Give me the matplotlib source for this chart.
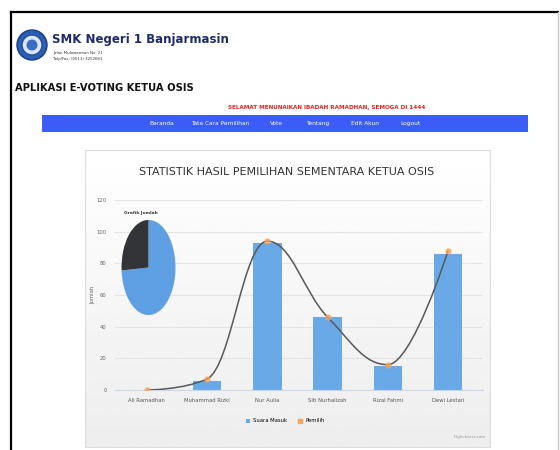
import matplotlib
matplotlib.use("Agg")
import matplotlib.pyplot as plt
import numpy as np
from matplotlib.path import Path
from matplotlib.patches import PathPatch, Rectangle, Circle

plt.rcParams["font.family"] = ["DejaVu Sans Condensed", "Liberation Sans Narrow", "DejaVu Sans"]

# data
candidates = ["Ali Ramadhan", "Muhammad Rizki", "Nur Aulia", "Siti Nurhalizah", "Rizal Fahmi", "Dewi Lestari"]
suara_masuk = [0, 6, 93, 46, 15, 86]
pemilih = [0, 7, 94, 46, 16, 88]
pie_labels = ["Sudah Memilih", "Belum Memilih"]
pie_values = [74, 26]
y_ticks = [0, 20, 40, 60, 80, 100, 120]
menu = ["Beranda", "Tata Cara Pemilihan", "Vote", "Tentang", "Edit Akun", "Logout"]
menu_x = [162, 220, 277, 318, 365, 410]

W, H = 560, 450
fig = plt.figure(figsize=(W / 100, H / 100), dpi=100)
fig.patch.set_facecolor("white")


def box(x0, y0, x1, y1):
    # pixel box (top-left origin) -> figure fraction
    return [x0 / W, 1 - y1 / H, (x1 - x0) / W, (y1 - y0) / H]


# page background / header
bg = fig.add_axes([0, 0, 1, 1])
bg.axis("off")
bg.plot([11, 558], [12, 12], color="black", lw=1.6)
bg.plot([11, 11], [12, 450], color="black", lw=1.6)
bg.plot([558, 558], [12, 450], color="#c8c8c8", lw=1)

# logo
bg.add_patch(Circle((32, 45), 15, facecolor="#2b5fb5", edgecolor="#1b3c86", lw=1))
bg.add_patch(Circle((32, 45), 10, facecolor="#dbe6f6", edgecolor="#274f9e", lw=1))
bg.add_patch(Circle((32, 45), 5.5, facecolor="#3a6cc0", edgecolor="none"))
bg.text(52, 39, "SMK Negeri 1 Banjarmasin", fontsize=8.5, fontweight="bold",
        color="#1e2a6e", ha="left", va="center")
bg.text(53, 53, "Jalan Mulawarman No. 21", fontsize=2.8, color="#333", va="center")
bg.text(53, 59, "Telp/Fax: (0511) 3252681", fontsize=2.8, color="#333", va="center")
bg.text(15, 88, "APLIKASI E-VOTING KETUA OSIS", fontsize=7.2, fontweight="bold",
        color="#111", ha="left", va="center")
bg.text(327, 108, "SELAMAT MENUNAIKAN IBADAH RAMADHAN, SEMOGA DI 1444", fontsize=4.1,
        fontweight="bold", color="#e8201c", ha="center", va="center")

# nav bar
bg.add_patch(Rectangle((42, 115), 486, 17, facecolor="#3b5cf6", edgecolor="none"))
for label, x in zip(menu, menu_x):
    bg.text(x, 123.5, label, fontsize=4.2, color="white", ha="center", va="center")

# chart panel with soft gradient
grad = np.linspace(1.0, 0.93, 100).reshape(-1, 1)
bg.imshow(grad, extent=(85, 490, 447, 150), cmap="gray", vmin=0, vmax=1,
          aspect="auto", zorder=0)
bg.add_patch(Rectangle((85, 150), 405, 297, facecolor="none", edgecolor="#dcdcdc", lw=0.8))
bg.text(287, 172, "STATISTIK HASIL PEMILIHAN SEMENTARA KETUA OSIS", fontsize=8,
        color="#333", ha="center", va="center")
bg.text(470, 437, "Highcharts.com", fontsize=3, color="#999", ha="center", va="center")
bg.set_xlim(0, W)
bg.set_ylim(H, 0)

# main chart
ax = fig.add_axes(box(115, 200, 483, 390))
ax.set_facecolor("none")
x = np.arange(len(candidates))
bars = ax.bar(x, suara_masuk, width=0.47, color="#6aa9e8", label="Suara Masuk", zorder=2)


def spline_path(xs, ys, smoothing=1.5):
    denom = smoothing + 1
    n = len(xs)
    lc = [(xs[i], ys[i]) for i in range(n)]
    rc = [(xs[i], ys[i]) for i in range(n)]
    for i in range(1, n - 1):
        px, py = xs[i], ys[i]
        lx = (smoothing * px + xs[i - 1]) / denom
        ly = (smoothing * py + ys[i - 1]) / denom
        rx = (smoothing * px + xs[i + 1]) / denom
        ry = (smoothing * py + ys[i + 1]) / denom
        corr = ((ry - ly) * (rx - px)) / (rx - lx) + py - ry
        ly += corr
        ry += corr
        if ly > max(ys[i - 1], py):
            ly = max(ys[i - 1], py)
            ry = 2 * py - ly
        elif ly < min(ys[i - 1], py):
            ly = min(ys[i - 1], py)
            ry = 2 * py - ly
        if ry > max(ys[i + 1], py):
            ry = max(ys[i + 1], py)
            ly = 2 * py - ry
        elif ry < min(ys[i + 1], py):
            ry = min(ys[i + 1], py)
            ly = 2 * py - ry
        lc[i] = (lx, ly)
        rc[i] = (rx, ry)
    verts = [(xs[0], ys[0])]
    codes = [Path.MOVETO]
    for i in range(1, n):
        verts += [rc[i - 1], lc[i], (xs[i], ys[i])]
        codes += [Path.CURVE4] * 3
    return Path(verts, codes)


ax.add_patch(PathPatch(spline_path(list(x), pemilih), facecolor="none",
                       edgecolor="#585858", lw=1.1, zorder=3))
ax.plot(x, pemilih, "o", color="#f7a35c", ms=3.5, alpha=0.75, zorder=4)
line_handle, = ax.plot([], [], "s", color="#f7a35c", ms=3, label="Pemilih")

ax.set_xlim(-0.53, 5.58)
ax.set_ylim(0, 120)
ax.set_yticks(y_ticks)
ax.set_xticks(x)
ax.set_xticklabels(candidates, fontsize=3.8, color="#555")
ax.tick_params(axis="y", labelsize=3.8, labelcolor="#666", length=0, pad=6)
ax.tick_params(axis="x", length=0, pad=6)
ax.yaxis.grid(True, color="#e3e3e3", lw=0.8)
ax.set_axisbelow(True)
for s in ["top", "right", "left"]:
    ax.spines[s].set_visible(False)
ax.spines["bottom"].set_color("#ccd6eb")
ax.set_ylabel("Jumlah", fontsize=3.8, color="#666", labelpad=1)
ax.legend(handles=[bars, line_handle], loc="center", bbox_to_anchor=(285 / W, 1 - 421 / H),
          bbox_transform=fig.transFigure, ncol=2, fontsize=3.8, frameon=False,
          handlelength=0.8, handletextpad=0.6, columnspacing=2.0)

# pie inset
pax = fig.add_axes(box(121, 219, 176, 316))
pax.pie(pie_values, colors=["#5fa0e4", "#333438"], startangle=90, counterclock=False)
pax.set_aspect("auto")
pax.set_xlim(-1.02, 1.02)
pax.set_ylim(-1.02, 1.02)
bg.text(141, 213, "Grafik Jumlah", fontsize=3.2, fontweight="bold", color="#333",
        ha="center", va="center")

fig.savefig("out.png", dpi=100)
